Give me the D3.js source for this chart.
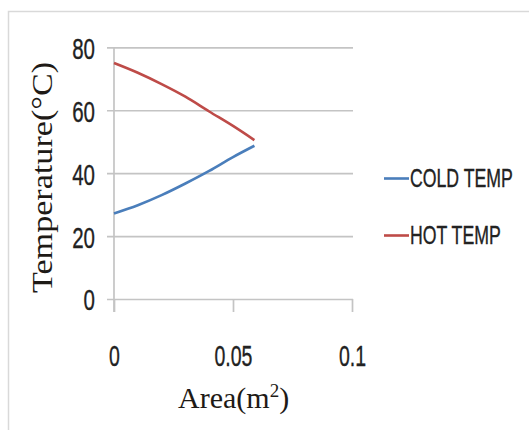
<!DOCTYPE html>
<html><head><meta charset="utf-8">
<script src="https://cdn.jsdelivr.net/npm/d3@7"></script>
<style>
body{margin:0;background:#fff;}
svg{display:block;}
</style></head>
<body>
<script>
// ---- data ----
const area = [0, 0.01, 0.02, 0.03, 0.04, 0.05, 0.059];
const coldTemp = [27.2, 29.8, 33.0, 36.7, 40.7, 45.1, 48.7];
const hotTemp  = [75.0, 71.9, 68.3, 64.3, 59.6, 55.0, 50.5];
const seriesNames = ["COLD TEMP", "HOT TEMP"];
const seriesColors = ["#4a7ebb", "#be4b48"];
const yTicks = [0, 20, 40, 60, 80];
const xTicks = [0, 0.05, 0.1];
const xTitle = "Area(m";
const xTitleSup = "2";
const xTitleEnd = ")";
const yTitle = "Temperature(\u00B0C)";

const W = 529, H = 430;
const svg = d3.select("body").append("svg").attr("width", W).attr("height", H);

// outer frame
svg.append("rect").attr("x", 8.5).attr("y", 11.5).attr("width", 540).attr("height", 440)
  .attr("fill", "none").attr("stroke", "#d9d9d9").attr("stroke-width", 1.5);

const x = d3.scaleLinear().domain([0, 0.1]).range([114, 352]);
const y = d3.scaleLinear().domain([0, 80]).range([299, 47.3]);

const tickFont = "'Liberation Sans', Arial, sans-serif";
const SY = 1.48; // vertical stretch of the narrow label font

// y grid + labels
const gy = svg.append("g").attr("transform", "translate(107,0)")
  .call(d3.axisLeft(y).tickValues(yTicks).tickSize(-246).tickPadding(12).tickFormat(d3.format("d")));
gy.select(".domain").remove();
gy.selectAll(".tick line").attr("stroke", "#c4c4c4").attr("stroke-width", 1.7);
gy.selectAll(".tick text").attr("fill", "#222").attr("stroke", "#222").attr("stroke-width", 0.25)
  .style("font-family", tickFont).style("font-size", "20.5px")
  .attr("dy", "0.36em").attr("transform", `scale(1,${SY})`);

// y axis vertical line
svg.append("line").attr("x1", x(0)).attr("x2", x(0)).attr("y1", y(80)).attr("y2", 312)
  .attr("stroke", "#c4c4c4").attr("stroke-width", 1.7);

// x axis ticks + labels
const gx = svg.append("g").attr("transform", "translate(0," + y(0) + ")")
  .call(d3.axisBottom(x).tickValues(xTicks).tickSize(13).tickPadding(10).tickFormat(d => d === 0 ? "0" : String(d)));
gx.select(".domain").remove();
gx.selectAll(".tick line").attr("stroke", "#c4c4c4").attr("stroke-width", 1.7);
gx.selectAll(".tick text").attr("fill", "#222").attr("stroke", "#222").attr("stroke-width", 0.25)
  .style("font-family", tickFont).style("font-size", "19.5px")
  .attr("y", 67.5 / SY).attr("dy", "0").attr("transform", `scale(1,${SY})`);

// lines
const line = d3.line().x((d, i) => x(area[i])).y(d => y(d)).curve(d3.curveMonotoneX);
[coldTemp, hotTemp].forEach((s, k) => {
  svg.append("path").datum(s).attr("d", line).attr("fill", "none")
    .attr("stroke", seriesColors[k]).attr("stroke-width", 2.6);
});

// legend
const legY = [178.5, 235.5];
seriesNames.forEach((n, k) => {
  svg.append("line").attr("x1", 384).attr("x2", 409).attr("y1", legY[k]).attr("y2", legY[k])
    .attr("stroke", seriesColors[k]).attr("stroke-width", 2.6);
  svg.append("text").attr("transform", `translate(410,${legY[k] + 8.5}) scale(1,1.5)`).text(n)
    .attr("fill", "#222").attr("stroke", "#222").attr("stroke-width", 0.25)
    .style("font-family", tickFont).style("font-size", "17.7px");
});

// axis titles
const serif = "'Liberation Serif', 'Times New Roman', serif";
const xt = svg.append("text").attr("x", 178).attr("y", 408).attr("fill", "#1e1a16")
  .style("font-family", serif).style("font-size", "30px");
xt.append("tspan").text(xTitle);
xt.append("tspan").text(xTitleSup).style("font-size", "19px").attr("dy", "-11");
xt.append("tspan").text(xTitleEnd).attr("dy", "11");

svg.append("text").attr("transform", "translate(52,177.5) rotate(-90)").attr("text-anchor", "middle")
  .attr("fill", "#1e1a16").style("font-family", serif).style("font-size", "30px")
  .attr("textLength", 231).attr("lengthAdjust", "spacingAndGlyphs").text(yTitle);
</script>
</body></html>
